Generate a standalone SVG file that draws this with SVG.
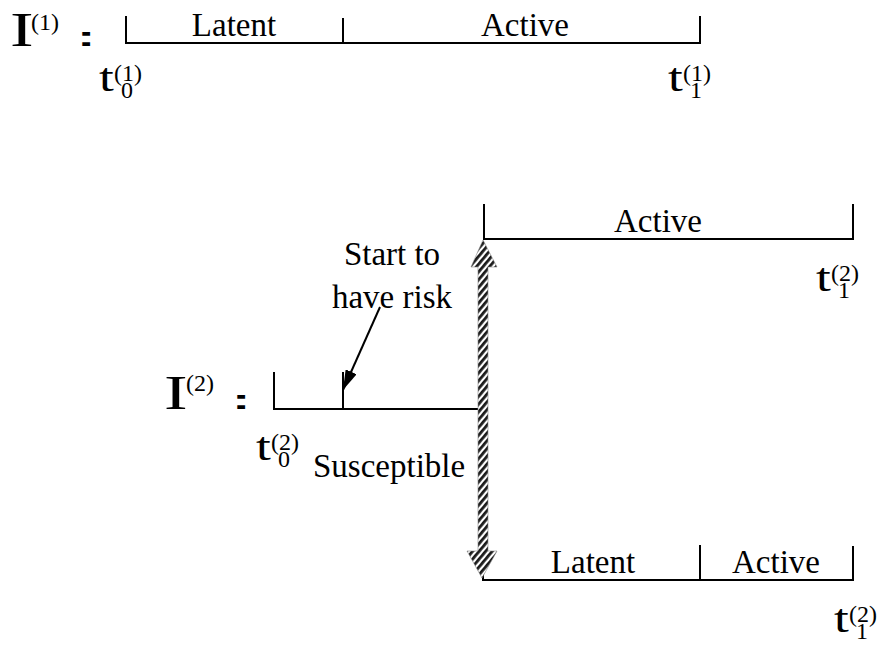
<svg xmlns="http://www.w3.org/2000/svg" width="882" height="645" viewBox="0 0 882 645">
  <style>
    .ln { stroke: #000; stroke-width: 2; fill: none; }
    .serif { font-family: "Liberation Serif", "Times New Roman", serif; fill: #000; }
    .lbl { font-size: 33px; }
    .cap { font-size: 49px; }
    .tt { font-size: 41px; }
    .sm { font-size: 24px; }
    .col { font-family: "Liberation Sans", Arial, sans-serif; font-size: 38px; font-weight: bold; fill: #000; }
  </style>
  <defs>
    <pattern id="hatch" width="5" height="5" patternUnits="userSpaceOnUse" patternTransform="rotate(-50)">
      <rect width="5" height="5" fill="#fff"/>
      <rect width="5" height="2.8" fill="#1a1a1a"/>
    </pattern>
    <marker id="tri" viewBox="0 0 20 12" refX="20" refY="6" markerWidth="20" markerHeight="12" markerUnits="userSpaceOnUse" orient="auto">
      <path d="M0,0 L20,6 L0,12 z" fill="#000"/>
    </marker>
  </defs>

  <!-- first individual: latent then active -->
  <g id="individual1">
    <text class="serif cap" transform="translate(10,46) scale(1.45,1)">I</text>
    <text class="serif sm" x="31" y="30">(1)</text>
    <text class="col" transform="translate(77,46) scale(1.45,0.72)">:</text>
    <path class="ln" d="M126,16 V43 H700 V16 M343,18 V43"/>
    <text class="serif lbl" x="234" y="36" text-anchor="middle">Latent</text>
    <text class="serif lbl" x="525" y="36" text-anchor="middle">Active</text>
    <text class="serif tt" transform="translate(99,91) scale(1.3,1)">t</text>
    <text class="serif sm" x="114" y="81">(1)</text>
    <text class="serif sm" x="121" y="98">0</text>
    <text class="serif tt" transform="translate(668,91) scale(1.3,1)">t</text>
    <text class="serif sm" x="683" y="81">(1)</text>
    <text class="serif sm" x="690" y="98">1</text>
  </g>

  <!-- second individual: susceptible stage -->
  <g id="individual2">
    <text class="serif cap" transform="translate(164,409) scale(1.45,1)">I</text>
    <text class="serif sm" x="186" y="391">(2)</text>
    <text class="col" transform="translate(232,409) scale(1.45,0.72)">:</text>
    <path class="ln" d="M274,372 V409 H485 V372 M343,372 V409"/>
    <text class="serif tt" transform="translate(256,460) scale(1.3,1)">t</text>
    <text class="serif sm" x="271" y="450">(2)</text>
    <text class="serif sm" x="278" y="467">0</text>
    <text class="serif lbl" x="313" y="477">Susceptible</text>
  </g>

  <!-- risk onset note -->
  <g id="risk-note">
    <text class="serif lbl" x="392" y="265" text-anchor="middle">Start to</text>
    <text class="serif lbl" x="392" y="308" text-anchor="middle">have risk</text>
  </g>

  <!-- outcome: immediately active -->
  <g id="outcome-active">
    <path class="ln" d="M484,204 V239 H853 V204"/>
    <text class="serif lbl" x="658" y="232" text-anchor="middle">Active</text>
    <text class="serif tt" transform="translate(816,291) scale(1.3,1)">t</text>
    <text class="serif sm" x="831" y="281">(2)</text>
    <text class="serif sm" x="838" y="298">1</text>
  </g>

  <!-- outcome: latent then active -->
  <g id="outcome-latent">
    <path class="ln" d="M483,546 V580 H853 V546 M700,545 V580"/>
    <text class="serif lbl" x="593" y="573" text-anchor="middle">Latent</text>
    <text class="serif lbl" x="776" y="573" text-anchor="middle">Active</text>
    <text class="serif tt" transform="translate(834,632) scale(1.3,1)">t</text>
    <text class="serif sm" x="849" y="622">(2)</text>
    <text class="serif sm" x="856" y="639">1</text>
  </g>

  <!-- connectors -->
  <g id="connectors">
    <path class="ln" d="M380,307 L343,390" stroke-width="2.2" marker-end="url(#tri)"/>
    <path d="M483,240 L497,267 L488,267 L488,551 L497,551 L482,578 L467,551 L478,551 L478,267 L471,267 Z" fill="url(#hatch)" stroke="#888" stroke-width="0.6"/>
  </g>
</svg>
